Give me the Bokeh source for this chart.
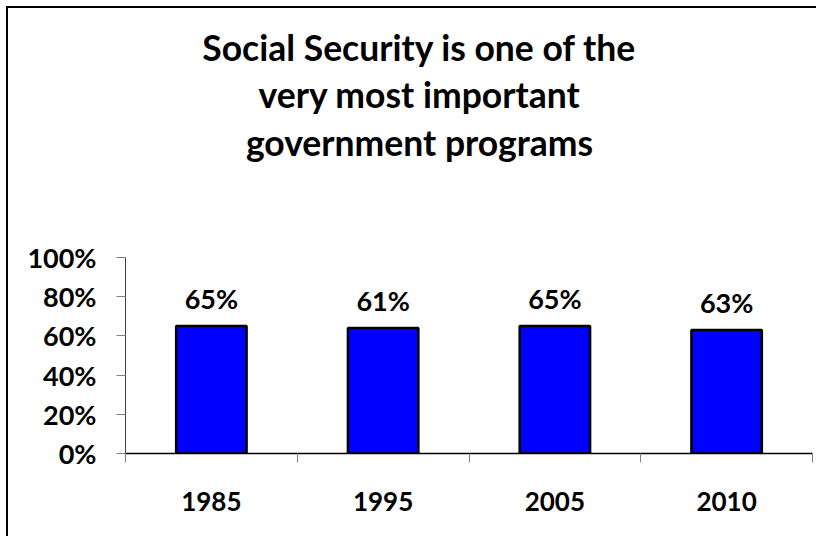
from bokeh.plotting import figure
from bokeh.models import FixedTicker, Range1d, ColumnDataSource
from bokeh.embed import file_html
from bokeh.resources import INLINE
from bokeh.core.properties import value

# ---- data ----
years = ["1985", "1995", "2005", "2010"]
bar_values = [65, 64, 65, 63]
bar_labels = ["65%", "61%", "65%", "63%"]
y_ticks = [0, 20, 40, 60, 80, 100]
y_tick_labels = ["0%", "20%", "40%", "60%", "80%", "100%"]
title_lines = ["Social Security is one of the", "very most important", "government programs"]

FONT = "Lato"

# ---- layout (pixels) ----
W, H = 810, 530
LEFT, RIGHT, BOTTOM = 117, 6, 85
PX_PER_100 = 196                       # plot height that spans 0% .. 100%
y_top = 100.0 * (H - BOTTOM) / PX_PER_100  # plot area extends up to hold the title

xs = [i + 0.5 for i in range(len(years))]
src = ColumnDataSource(dict(x=xs, top=bar_values, label=bar_labels))

p = figure(width=W, height=H, output_backend="svg", toolbar_location=None,
           x_range=Range1d(0, len(years)), y_range=Range1d(0, y_top),
           min_border_left=LEFT, min_border_right=RIGHT, min_border_top=0,
           min_border_bottom=BOTTOM)
# chart frame: left and top edges, drawn as a shadow just outside the figure
p.styles = {"margin-left": "8px", "margin-top": "8px",
            "box-shadow": "-2px -2px 0 0 black"}
p.title.visible = False
p.grid.visible = False
p.outline_line_color = None
p.background_fill_color = "white"
p.border_fill_color = "white"

p.vbar(x="x", top="top", bottom=0, width=0.41, source=src,
       fill_color="#0000FF", line_color="black", line_width=2.5)

p.text(x="x", y="top", text="label", source=src, y_offset=-28,
       text_align="center", text_baseline="middle",
       text_font=value(FONT), text_font_style="bold", text_font_size="27px",
       text_color="black")

# title: three centred lines above the 100% level
title_x = [1.712] * 3
title_y = [206.9, 183.2, 158.5]
p.text(x=title_x, y=title_y, text=title_lines, text_align="center",
       text_baseline="alphabetic", text_font=value(FONT), text_font_style="bold",
       text_font_size="35.5px", text_color="black")

# x axis: labels at centers, tick marks at boundaries
xa = p.xaxis[0]
xa.ticker = FixedTicker(ticks=xs, minor_ticks=list(range(len(years) + 1)))
xa.major_label_overrides = {x: y for x, y in zip(xs, years)}
xa.major_tick_out = 0
xa.major_tick_in = 0
xa.minor_tick_out = 9
xa.minor_tick_in = 0
xa.minor_tick_line_color = "#808080"
xa.axis_line_color = "black"
xa.axis_line_width = 1.5
xa.major_label_standoff = 29
xa.major_label_text_font = FONT
xa.major_label_text_font_style = "bold"
xa.major_label_text_font_size = "26px"
xa.major_label_text_color = "black"

ya = p.yaxis[0]
ya.bounds = (0, 100)
ya.ticker = FixedTicker(ticks=y_ticks)
ya.major_label_overrides = {t: l for t, l in zip(y_ticks, y_tick_labels)}
ya.minor_tick_line_color = None
ya.major_tick_out = 9
ya.major_tick_in = 0
ya.major_tick_line_color = "#808080"
ya.axis_line_color = "#404040"
ya.axis_line_width = 1
ya.major_label_standoff = 20
ya.major_label_text_font = FONT
ya.major_label_text_font_style = "bold"
ya.major_label_text_font_size = "27px"
ya.major_label_text_color = "black"

open("out.html", "w").write(file_html(p, INLINE))
